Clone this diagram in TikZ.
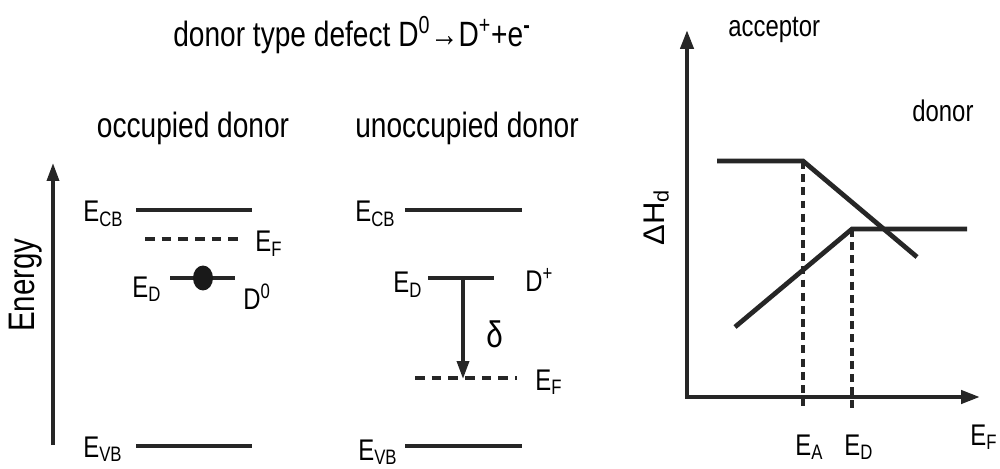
\documentclass[tikz,border=0pt]{standalone}
\usepackage{fontspec}
\setmainfont{Liberation Sans}[FakeStretch=0.8]
\usetikzlibrary{arrows.meta,positioning,calc}
\tikzset{
  lvl/.style   = {line width=2.7pt, draw=black!85},
  flvl/.style  = {lvl, dashed, dash pattern=on 5.5pt off 4pt},
  curve/.style = {line width=2.7pt, draw=black!85},
  guide/.style = {line width=2pt, draw=black!85, dashed, dash pattern=on 4.5pt off 3pt},
  lbl/.style   = {font=\fontsize{17}{20}\selectfont, inner sep=0pt, anchor=base west},
  hdr/.style   = {font=\fontsize{20}{24}\selectfont, inner sep=0pt, anchor=base},
  ar/.style    = {-{Triangle[length=3.6mm, width=2.4mm]}, line width=2pt, draw=black!85},
  ax/.style    = {{Triangle[length=3.8mm, width=2.6mm]}-{Triangle[length=3.8mm, width=2.6mm]},
                  line width=2.4pt, draw=black!85}
}

\begin{document}
\begin{tikzpicture}[x=0.02cm, y=-0.02cm]
    \useasboundingbox (0,0) rectangle (1000,469);
    % headings
    \node[hdr] (title) at (352,47) {donor type defect D\textsuperscript{0}→D\textsuperscript{+}+e\textsuperscript{\textbf{-}}};
    \node[hdr] (occ) at (193,138) {occupied donor};
    \node[hdr] (unocc) at (467,138) {unoccupied donor};

    % energy axis
    \coordinate (e0) at (53,445);
    \coordinate (e1) at (53,163);
    \draw[ar] (e0) -- (e1);
    \node[lbl, anchor=base, rotate=90, font=\fontsize{21}{24}\selectfont] (energy) at (34,285) {Energy};

    % occupied donor
    \draw[lvl] (136,210) -- (252,210);
    \draw[flvl] (145,239) -- (245,239);
    \draw[lvl] (170,278) -- (235,278);
    \fill[black!90] (203,278) ellipse [x radius=2mm, y radius=2.5mm];
    \draw[lvl] (136,446) -- (252,446);
    \node[lbl] (cb1) at (83,222) {E\textsubscript{CB}};
    \node[lbl] (f1) at (255,252) {E\textsubscript{F}};
    \node[lbl] (d1) at (132,297) {E\textsubscript{D}};
    \node[lbl] (dz) at (243,310) {D\textsuperscript{0}};
    \node[lbl] (vb1) at (83,457) {E\textsubscript{VB}};

    % unoccupied donor
    \draw[lvl] (405,210) -- (522,210);
    \draw[lvl] (428,278) -- (494,278);
    \draw[flvl] (415,378) -- (517,378);
    \draw[lvl] (405,446) -- (522,446);
    \coordinate (d2top) at (463,278);
    \coordinate (f2bot) at (463,379);
    \draw[ar] (d2top) -- (f2bot);
    \node[lbl, font=\fontsize{21}{24}\selectfont] (delta) at (486,347) {δ};
    \node[lbl] (cb2) at (355,222) {E\textsubscript{CB}};
    \node[lbl] (d2) at (393,293) {E\textsubscript{D}};
    \node[lbl] (dp) at (525,292) {D\textsuperscript{+}};
    \node[lbl] (f2) at (535,390) {E\textsubscript{F}};
    \node[lbl] (vb2) at (358,460) {E\textsubscript{VB}};

    % formation enthalpy vs Fermi level
    \coordinate (o) at (687,397);
    \coordinate (ytip) at (687,30);
    \coordinate (xtip) at (980,397);
    \draw[ax] (ytip) -- (o) -- (xtip);
    \coordinate (ka) at (803,161);
    \coordinate (kd) at (852,229);
    \draw[guide] (ka) -- (803,410);
    \draw[guide] (kd) -- (852,410);
    \draw[curve] (717,161) -- (ka) -- (917,257);
    \draw[curve] (735,327) -- (kd) -- (967,229);
    \node[lbl] (acc) at (728,37) {acceptor};
    \node[lbl] (don) at (912,122) {donor};
    \node[lbl, rotate=90] (dh) at (664,246) {\scalebox{1.3}[1]{ΔH\textsubscript{d}}};
    \node[lbl] (ea) at (795,455) {E\textsubscript{A}};
    \node[lbl] (ed) at (844,455) {E\textsubscript{D}};
    \node[lbl] (ef) at (970,445) {E\textsubscript{F}};
\end{tikzpicture}
\end{document}
